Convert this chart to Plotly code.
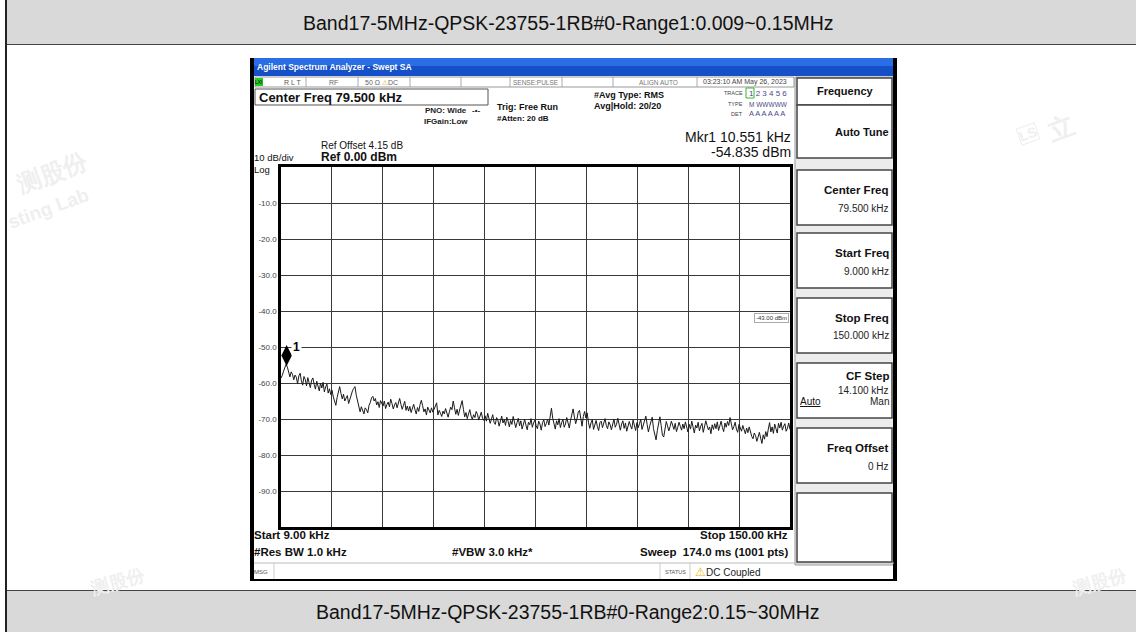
import numpy as np
import plotly.graph_objects as go

# ---------------- data ----------------
START_KHZ = 9.0
STOP_KHZ = 150.0
REF_LEVEL = 0.0
DB_PER_DIV = 10.0
Y_TICKS = [-10, -20, -30, -40, -50, -60, -70, -80, -90]
MKR_FREQ = 10.551
MKR_LEVEL = -54.835
DISPLAY_LINE_LABEL = "-43.00 dBm"

TRACE_DBM = [
    -58.6, -57.9, -56.7, -55.9, -54.8, -55.6, -57.2, -58.3, -56.9, -57.6, -59.1, -57.8, -58.4, -60.2, -58.0, -57.3, -59.4, -60.6, -58.2, -59.0,
    -60.8, -58.5, -59.9, -61.3, -59.2, -58.6, -60.4, -61.7, -59.5, -60.9, -62.2, -60.0, -61.4, -59.8, -62.5, -61.1, -60.3, -62.8, -61.6, -63.2,
    -62.0, -63.9, -65.1, -66.2, -64.0, -62.3, -61.0, -62.9, -64.4, -63.1, -65.0, -64.2, -63.5, -65.7, -64.6, -63.0, -62.2, -61.5, -61.0, -63.4,
    -65.2, -66.9, -68.0, -66.6, -67.8, -68.6, -66.9, -67.4, -68.3, -66.2, -65.4, -64.1, -63.7, -65.0, -64.3, -66.1, -65.2, -66.8, -64.9, -65.6,
    -66.4, -65.0, -67.1, -66.0, -65.3, -66.6, -64.5, -65.7, -67.2, -66.1, -65.4, -66.9, -65.8, -64.3, -65.9, -67.3, -66.2, -65.1, -67.6, -66.4,
    -67.8, -66.5, -68.2, -67.0, -65.9, -67.4, -68.6, -66.8, -67.9, -66.0, -64.8, -66.3, -68.0, -67.2, -68.9, -66.7, -67.5, -68.3, -66.9, -68.1,
    -67.3, -66.1, -65.5, -68.9, -67.6, -68.4, -69.3, -67.8, -68.6, -67.1, -68.8, -69.5, -68.0, -66.7, -67.4, -65.0, -66.9, -68.7, -67.3, -69.0,
    -67.5, -66.2, -64.9, -67.3, -69.4, -68.2, -69.9, -68.6, -67.4, -69.2, -70.1, -68.8, -69.6, -67.9, -68.7, -70.3, -69.0, -68.1, -69.8, -70.4,
    -69.1, -70.6, -68.4, -69.7, -71.2, -70.0, -68.8, -70.9, -71.5, -69.6, -70.3, -72.0, -70.7, -69.2, -71.1, -70.2, -71.8, -69.5, -70.6, -72.2,
    -70.4, -71.5, -69.3, -70.8, -72.4, -71.0, -69.8, -71.9, -70.5, -72.8, -71.2, -70.1, -71.7, -73.0, -70.9, -71.6, -69.9, -72.3, -71.1, -70.3,
    -71.8, -72.7, -70.6, -71.4, -73.1, -71.0, -70.2, -72.1, -71.3, -70.0, -71.7, -69.4, -67.0, -69.8, -71.9, -72.8, -70.5, -71.6, -69.9, -72.4,
    -71.0, -70.1, -72.3, -71.4, -69.6, -70.8, -72.5, -70.3, -68.6, -67.2, -69.5, -71.3, -70.0, -68.1, -67.6, -70.4, -72.0, -69.3, -67.9, -69.7,
    -68.3, -70.9, -72.6, -71.1, -70.2, -72.9, -71.5, -70.4, -72.1, -73.2, -71.0, -70.6, -72.4, -71.3, -69.9, -71.8, -72.7, -70.8, -71.6, -73.0,
    -71.2, -70.0, -72.3, -71.5, -69.8, -72.0, -73.1, -71.4, -70.5, -72.6, -71.1, -73.4, -72.2, -70.7, -71.9, -72.8, -70.3, -71.6, -73.2, -71.0,
    -72.4, -71.3, -70.1, -72.9, -71.6, -70.4, -69.2, -71.5, -73.6, -72.0, -70.8, -69.5, -72.7, -74.6, -75.8, -73.2, -70.9, -69.4, -71.8, -74.5,
    -75.0, -72.6, -70.7, -71.9, -73.3, -72.1, -70.6, -71.7, -72.9, -71.2, -73.5, -72.3, -70.9, -72.0, -73.1, -71.4, -72.7, -70.8, -72.2, -73.6,
    -71.5, -72.8, -70.6, -72.1, -73.9, -71.7, -72.5, -70.9, -73.3, -72.0, -71.2, -73.7, -72.4, -70.5, -71.8, -73.0, -72.2, -74.1, -71.6, -72.9,
    -71.3, -72.7, -70.8, -73.2, -71.9, -70.6, -72.4, -73.5, -71.1, -72.3, -70.7, -71.8, -69.6, -71.4, -73.0, -72.1, -70.9, -72.8, -73.7, -71.5,
    -72.6, -73.4, -71.8, -72.9, -74.1, -72.5, -73.8, -72.2, -73.6, -74.8, -75.5, -73.9, -74.6, -76.2, -75.0, -73.7, -75.3, -76.8, -74.4, -75.6,
    -73.5, -74.9, -72.8, -71.0, -73.6, -72.2, -74.0, -71.4, -72.7, -73.9, -71.2, -72.5, -70.9, -73.1, -72.0, -71.3, -73.4, -72.6, -71.1, -72.9,
]
FREQ_KHZ = np.linspace(START_KHZ, STOP_KHZ, len(TRACE_DBM))

TITLE_TOP = "Band17-5MHz-QPSK-23755-1RB#0-Range1:0.009~0.15MHz"
TITLE_BOTTOM = "Band17-5MHz-QPSK-23755-1RB#0-Range2:0.15~30MHz"

SOFTKEYS = [
    ("Center Freq", "79.500 kHz"),
    ("Start Freq", "9.000 kHz"),
    ("Stop Freq", "150.000 kHz"),
    ("CF Step", "14.100 kHz"),
    ("Freq Offset", "0 Hz"),
]

# ---------------- layout helpers ----------------
W, H = 1136, 632
FONT = "Liberation Sans, Arial, sans-serif"
shapes = []
annos = []


def X(px):
    return px / W


def Y(py):
    return 1 - py / H


def rect(x0, y0, x1, y1, fill=None, line=None, lw=1, layer="above"):
    shapes.append(dict(
        type="rect", xref="paper", yref="paper",
        x0=X(x0), x1=X(x1), y0=Y(y1), y1=Y(y0),
        fillcolor=fill if fill else "rgba(0,0,0,0)",
        line=dict(color=line if line else "rgba(0,0,0,0)", width=lw if line else 0),
        layer=layer))


def hline(x0, x1, y, color="#333", lw=1, layer="above"):
    shapes.append(dict(type="line", xref="paper", yref="paper",
                       x0=X(x0), x1=X(x1), y0=Y(y), y1=Y(y),
                       line=dict(color=color, width=lw), layer=layer))


def vline(x, y0, y1, color="#333", lw=1, layer="above"):
    shapes.append(dict(type="line", xref="paper", yref="paper",
                       x0=X(x), x1=X(x), y0=Y(y0), y1=Y(y1),
                       line=dict(color=color, width=lw), layer=layer))


def txt(x, y, s, size, color="#111", xa="left", ya="middle", bold=False,
        family=FONT, angle=0, bg=None, border=None):
    d = dict(xref="paper", yref="paper", x=X(x), y=Y(y),
             text=("<b>%s</b>" % s) if bold else s,
             showarrow=False, xanchor=xa, yanchor=ya, textangle=angle,
             font=dict(size=size, color=color, family=family), borderpad=0)
    if bg:
        d["bgcolor"] = bg
    if border:
        d["bordercolor"] = border
        d["borderwidth"] = 1
    annos.append(d)


# ---------------- page / table ----------------
rect(6, 0, W, 44, fill="#d9d9d9", layer="below")
rect(6, 591, W, H, fill="#d9d9d9", layer="below")
hline(6, W, 44.5, color="#444", lw=1)
hline(6, W, 590.5, color="#444", lw=1)
vline(6, 0, H, color="#222", lw=2)
txt(568, 23, TITLE_TOP, 19.5, color="#111", xa="center")
txt(568, 612, TITLE_BOTTOM, 19.5, color="#111", xa="center")

# watermarks
WM = "#efefef"
txt(52, 172, "测股份", 24, color=WM, xa="center", angle=-20, bold=True)
txt(48, 208, "sting Lab", 19, color=WM, xa="center", angle=-20, bold=True)
txt(1060, 128, "立", 26, color=WM, xa="center", angle=-20, bold=True)
txt(1028, 134, "LS", 14, color=WM, xa="center", angle=-20, bold=True, border=WM)
txt(118, 582, "测股份", 18, color=WM, xa="center", angle=-15, bold=True)
txt(1100, 582, "测股份", 18, color=WM, xa="center", angle=-15, bold=True)

# ---------------- analyzer screenshot frame ----------------
rect(250, 58, 896, 580, fill="white", layer="below")
# title bar
rect(250, 58, 896, 67, fill="#2a6ee6", layer="below")
rect(250, 66, 896, 76, fill="#1550c8", layer="below")
txt(256, 67, "Agilent Spectrum Analyzer - Swept SA", 8.5, color="white", bold=True)
vline(252, 58, 581, color="#000", lw=4)
vline(895, 58, 581, color="#000", lw=4)
hline(250, 897, 580, color="#000", lw=2)

# status row
rect(255, 77, 794, 87, fill="white", line="#999", lw=1)
for sx in [306, 358, 410, 461, 510, 562, 613, 697]:
    vline(sx, 77, 87, color="#aaa", lw=1)
rect(255, 78, 263, 86, fill="#22cc22")
txt(259, 82, "LXI", 5, color="#000", xa="center")
txt(283, 82, "R L T", 7, color="#555")
txt(333, 82, "RF", 7, color="#666", xa="center")
txt(364, 82, "50 Ω <span style='color:#e0a800'>⚠</span>DC", 7, color="#666")
txt(536, 82, "SENSE:PULSE", 6.5, color="#777", xa="center")
txt(658, 82, "ALIGN AUTO", 6.5, color="#777", xa="center")
txt(745, 82, "03:23:10 AM May 26, 2023", 7, color="#444", xa="center")

# Center Freq box
rect(255, 89, 488, 105, fill="white", line="#555", lw=1)
txt(258, 97, "Center Freq 79.500 kHz", 13, color="#111", bold=True)

txt(468, 110, "PNO: Wide", 8, color="#222", xa="right", bold=True)
txt(471, 110, "-•-", 8, color="#222", bold=True)
txt(423, 121, "IFGain:Low", 8, color="#222", bold=True)
txt(496, 107, "Trig: Free Run", 9, color="#111", bold=True)
txt(496, 118, "#Atten: 20 dB", 8, color="#111", bold=True)
txt(593, 95, "#Avg Type: RMS", 9, color="#111", bold=True)
txt(593, 106, "Avg|Hold: 20/20", 9, color="#111", bold=True)
txt(744, 93, "TRACE", 5.5, color="#444", xa="right")
txt(744, 104, "TYPE", 5.5, color="#444", xa="right")
txt(744, 114, "DET", 5.5, color="#444", xa="right")
rect(746, 88, 754, 98, line="#33bb33", lw=1)
txt(748, 93, "1 2 3 4 5 6", 8, color="#4a4a8a")
txt(748, 104, "M WWWWW", 6.5, color="#4a4a8a")
txt(748, 114, "A A A A A A", 7.5, color="#4a4a8a")

# reference / marker readouts
txt(320, 145, "Ref Offset 4.15 dB", 10, color="#111")
txt(320, 157, "Ref 0.00 dBm", 12, color="#111", bold=True)
txt(253, 157, "10 dB/div", 9.5, color="#111")
txt(253, 169, "Log", 9.5, color="#111")
txt(792, 137, "Mkr1 10.551 kHz", 14, color="#111", xa="right")
txt(792, 152, "-54.835 dBm", 14, color="#111", xa="right")

# bottom readouts
txt(253, 535, "Start 9.00 kHz", 11.5, color="#111", bold=True)
txt(253, 552, "#Res BW 1.0 kHz", 11.5, color="#111", bold=True)
txt(451, 552, "#VBW 3.0 kHz*", 11.5, color="#111", bold=True)
txt(789, 535, "Stop 150.00 kHz", 11.5, color="#111", xa="right", bold=True)
txt(789, 552, "Sweep  174.0 ms (1001 pts)", 11.5, color="#111", xa="right", bold=True)
hline(254, 894, 563, color="#bbb", lw=1)
vline(274, 563, 579, color="#ccc", lw=1)
vline(660, 563, 579, color="#ccc", lw=1)
vline(690, 563, 579, color="#ccc", lw=1)
txt(253, 572, "MSG", 6, color="#555")
txt(675, 572, "STATUS", 5.5, color="#555", xa="center")
txt(694, 572, "<span style='color:#e8b400'>⚠</span>", 12, color="#e8b400")
txt(705, 572, "DC Coupled", 10, color="#222")

# softkey panel
rect(795, 77, 894, 565, fill="#ececec", line="#999", lw=1, layer="below")
rect(797, 78, 892, 105, fill="white", line="#444", lw=1.5)
txt(845, 91, "Frequency", 11, color="#111", xa="center", bold=True)
rect(797, 105, 892, 158, fill="white", line="#444", lw=1.5)
txt(890, 132, "Auto Tune", 11, color="#111", xa="right", bold=True)
box_tops = [170, 233, 298, 363, 428]
box_h = 55
for (lab, val), t in zip(SOFTKEYS, box_tops):
    rect(797, t, 892, t + box_h, fill="white", line="#444", lw=1.5)
    if lab == "CF Step":
        txt(890, t + 13, lab, 11.5, color="#111", xa="right", bold=True)
        txt(890, t + 27, val, 10, color="#222", xa="right")
        txt(799, t + 39, "<u>Auto</u>", 10, color="#111")
        txt(890, t + 39, "Man", 10, color="#222", xa="right")
    else:
        txt(890, t + 20, lab, 11.5, color="#111", xa="right", bold=True)
        txt(890, t + 38, val, 10, color="#222", xa="right")
rect(797, 493, 892, 562, fill="white", line="#444", lw=1.5)

# ---------------- plot (trace on real axes) ----------------
PL, PR, PT, PB = 281, 790, 167, 527
fig = go.Figure()
fig.add_trace(go.Scatter(x=FREQ_KHZ, y=TRACE_DBM, mode="lines",
                         line=dict(color="#1a1a1a", width=1), hoverinfo="skip",
                         showlegend=False))
# marker diamond sits with its lower tip on the marker point
px_per_db = (PB - PT) / (DB_PER_DIV * 10)
fig.add_trace(go.Scatter(x=[MKR_FREQ], y=[MKR_LEVEL + 9 / px_per_db], mode="markers",
                         marker=dict(symbol="diamond-tall", size=15, color="#000"),
                         hoverinfo="skip", showlegend=False))
annos.append(dict(xref="x", yref="y", x=MKR_FREQ, y=MKR_LEVEL, text="<b>1</b>",
                  showarrow=False, xanchor="left", yanchor="middle", xshift=4, yshift=17,
                  font=dict(size=12, color="#000", family=FONT), bgcolor="white"))
annos.append(dict(xref="paper", yref="y", x=X(PR - 1), y=-40, text=DISPLAY_LINE_LABEL,
                  showarrow=False, xanchor="right", yanchor="top", yshift=-2,
                  font=dict(size=6, color="#333", family=FONT), bgcolor="white",
                  bordercolor="#aaa", borderwidth=1, borderpad=1))

fig.update_layout(
    width=W, height=H, autosize=False,
    margin=dict(l=0, r=0, t=0, b=0),
    paper_bgcolor="white", plot_bgcolor="rgba(0,0,0,0)",
    shapes=shapes, annotations=annos, showlegend=False,
    xaxis=dict(domain=[X(PL), X(PR)], range=[START_KHZ, STOP_KHZ],
               tick0=START_KHZ, dtick=(STOP_KHZ - START_KHZ) / 10,
               showticklabels=False, ticks="", showgrid=True, gridcolor="#3a3a3a",
               gridwidth=1, zeroline=False, showline=True, linecolor="#000",
               linewidth=2.5, mirror=True, fixedrange=True),
    yaxis=dict(domain=[Y(PB), Y(PT)], range=[REF_LEVEL - 10 * DB_PER_DIV, REF_LEVEL],
               tickvals=Y_TICKS, ticktext=["%.1f" % v for v in Y_TICKS],
               tickfont=dict(size=8, color="#444", family=FONT), ticks="",
               showgrid=True, gridcolor="#3a3a3a", gridwidth=1, zeroline=False,
               showline=True, linecolor="#000", linewidth=2.5, mirror=True,
               fixedrange=True),
)

fig.write_html("out.html", config={"displayModeBar": False},
               post_script="document.body.style.margin='0px';")
